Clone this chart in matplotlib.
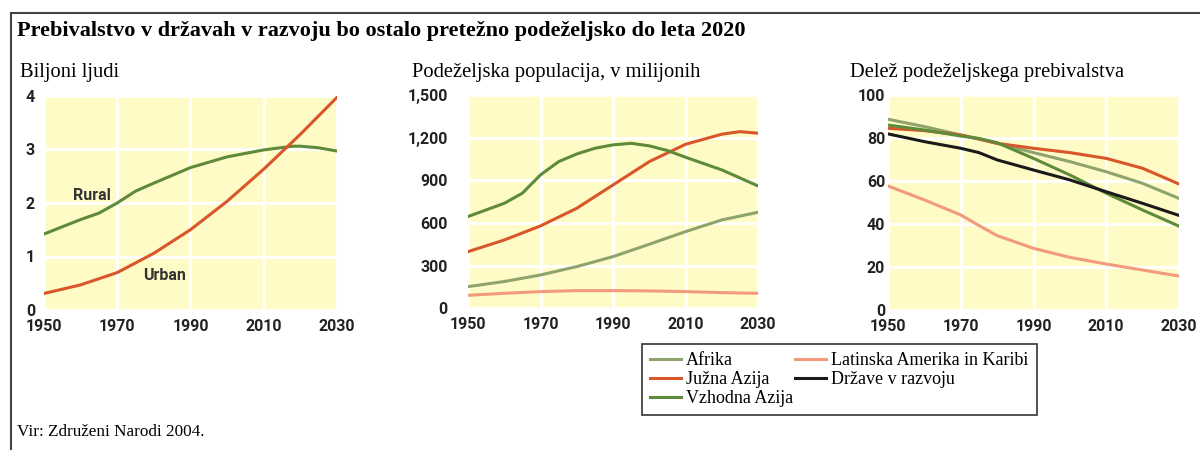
import matplotlib.pyplot as plt
from matplotlib.lines import Line2D

# panel 1: billions of people
years1 = [1950, 1960, 1965, 1970, 1975, 1980, 1990, 2000, 2010, 2018, 2020, 2025, 2030]
rural = [1.42, 1.69, 1.81, 2.0, 2.22, 2.37, 2.66, 2.86, 2.99, 3.06, 3.06, 3.03, 2.97]
years_u = [1950, 1960, 1970, 1980, 1990, 2000, 2010, 2020, 2030]
urban = [0.31, 0.47, 0.70, 1.06, 1.50, 2.03, 2.63, 3.28, 3.97]

# panel 2: rural population in millions
years = [1950, 1960, 1970, 1980, 1990, 2000, 2010, 2020, 2030]
years_ea = [1950, 1960, 1965, 1970, 1975, 1980, 1985, 1990, 1995, 2000, 2005, 2010, 2020, 2030]
pop_east_asia = [645, 738, 809, 938, 1031, 1085, 1125, 1149, 1160, 1142, 1109, 1062, 973, 860]
years_sa = [1950, 1960, 1970, 1980, 1990, 2000, 2010, 2020, 2025, 2030]
pop_south_asia = [398, 480, 579, 703, 867, 1031, 1153, 1224, 1242, 1231]
pop_africa = [152, 188, 234, 293, 363, 450, 539, 621, 675]
pop_latam = [91, 105, 117, 124, 124, 122, 117, 110, 105]

# panel 3: rural share, %
years_sh = [1950, 1960, 1970, 1975, 1980, 1990, 2000, 2010, 2020, 2030]
sh_africa = [88.7, 85.3, 81.4, 79.5, 77.5, 73.2, 69.0, 64.3, 58.9, 51.9]
sh_south_asia = [84.5, 83.4, 81.4, 79.5, 77.5, 75.2, 73.2, 70.5, 65.9, 58.6]
sh_east_asia = [86.0, 83.7, 80.9, 79.8, 77.8, 70.5, 62.8, 54.3, 46.5, 39.0]
sh_developing = [81.9, 78.3, 75.2, 73.2, 69.8, 65.1, 60.5, 55.0, 49.6, 44.0]
sh_latam = [57.7, 51.2, 44.2, 39.3, 34.6, 28.7, 24.5, 21.4, 18.6, 15.8]

title = "Prebivalstvo v državah v razvoju bo ostalo pretežno podeželjsko do leta 2020"
panel_titles = ["Biljoni ljudi", "Podeželjska populacija, v milijonih",
                "Delež podeželjskega prebivalstva"]
source = "Vir: Združeni Narodi 2004."

c_africa = "#8fa36c"
c_south = "#d9552a"
c_east = "#5e8b3a"
c_latam = "#f29a7c"
c_dev = "#1a1a1a"
yellow = "#fffbc6"
tick_font = ["Roboto", "DejaVu Sans"]
serif = ["Liberation Serif", "DejaVu Serif"]

fig = plt.figure(figsize=(12, 4.5), dpi=100)


def setup(ax, ymax, yticks, ylabels, pad):
    ax.set_facecolor(yellow)
    ax.set_xlim(1950, 2030)
    ax.set_ylim(0, ymax)
    ax.set_xticks([1950, 1970, 1990, 2010, 2030])
    ax.set_yticks(yticks)
    ax.set_yticklabels(ylabels)
    ax.grid(True, color="white", lw=2)
    ax.set_axisbelow(True)
    for s in ax.spines.values():
        s.set_visible(False)
    ax.tick_params(length=0, pad=pad, labelsize=11.5, colors="#222222")
    ax.tick_params(axis="x", pad=6.5)
    for lab in ax.get_xticklabels() + ax.get_yticklabels():
        lab.set_family(tick_font)
        lab.set_fontweight("bold")


ax1 = fig.add_axes([0.0367, 0.311, 0.244, 0.476])
ax2 = fig.add_axes([0.39, 0.315, 0.2417, 0.474])
ax3 = fig.add_axes([0.74, 0.311, 0.2425, 0.478])

setup(ax1, 4, [0, 1, 2, 3, 4], ["0", "1", "2", "3", "4"], 6.5)
setup(ax2, 1500, [0, 300, 600, 900, 1200, 1500],
      ["0", "300", "600", "900", "1,200", "1,500"], 14.5)
setup(ax3, 100, [0, 20, 40, 60, 80, 100],
      ["0", "20", "40", "60", "80", "100"], 2)

ax1.plot(years1, rural, color=c_east, lw=2.2)
ax1.plot(years_u, urban, color=c_south, lw=2.2)
ax1.text(1963, 2.13, "Rural", family=tick_font, fontweight="bold",
         fontsize=11.5, color="#333333", ha="center", va="center")
ax1.text(1983, 0.64, "Urban", family=tick_font, fontweight="bold",
         fontsize=11.5, color="#333333", ha="center", va="center")

ax2.plot(years, pop_africa, color=c_africa, lw=2.2)
ax2.plot(years_sa, pop_south_asia, color=c_south, lw=2.2)
ax2.plot(years_ea, pop_east_asia, color=c_east, lw=2.2)
ax2.plot(years, pop_latam, color=c_latam, lw=2.2)

l1, = ax3.plot(years_sh, sh_africa, color=c_africa, lw=2.2)
l2, = ax3.plot(years_sh, sh_south_asia, color=c_south, lw=2.2)
l3, = ax3.plot(years_sh, sh_east_asia, color=c_east, lw=2.2)
l4, = ax3.plot(years_sh, sh_latam, color=c_latam, lw=2.2)
l5, = ax3.plot(years_sh, sh_developing, color=c_dev, lw=2.2)

fig.text(17 / 1200, 1 - 31 / 450, title, family=serif, fontweight="bold",
         fontsize=16, va="center", ha="left")
for x, t in zip([20, 412, 850], panel_titles):
    fig.text(x / 1200, 1 - 73 / 450, t, family=serif, fontsize=14.8,
             va="center", ha="left")
fig.text(17 / 1200, 1 - 432 / 450, source, family=serif, fontsize=12.3,
         va="center", ha="left")

leg = fig.legend([l1, l2, l3, l4, l5],
                 ["Afrika", "Južna Azija", "Vzhodna Azija",
                  "Latinska Amerika in Karibi", "Države v razvoju"],
                 ncol=2, loc="upper left", bbox_to_anchor=(0.535, 0.236),
                 prop={"family": serif, "size": 13}, frameon=True,
                 fancybox=False, edgecolor="black", borderpad=0.45,
                 handlelength=1.7, handletextpad=0.3, columnspacing=0.1,
                 labelspacing=0.12, borderaxespad=0)
leg.get_frame().set_linewidth(1.2)

# outer frame (top and left edges)
fig.add_artist(Line2D([11 / 1200, 1], [1 - 12.5 / 450, 1 - 12.5 / 450],
                      transform=fig.transFigure, color="#444444", lw=1.5))
fig.add_artist(Line2D([11 / 1200, 11 / 1200], [0, 1 - 12.5 / 450],
                      transform=fig.transFigure, color="#444444", lw=1.5))

fig.savefig("out.png", dpi=100)
